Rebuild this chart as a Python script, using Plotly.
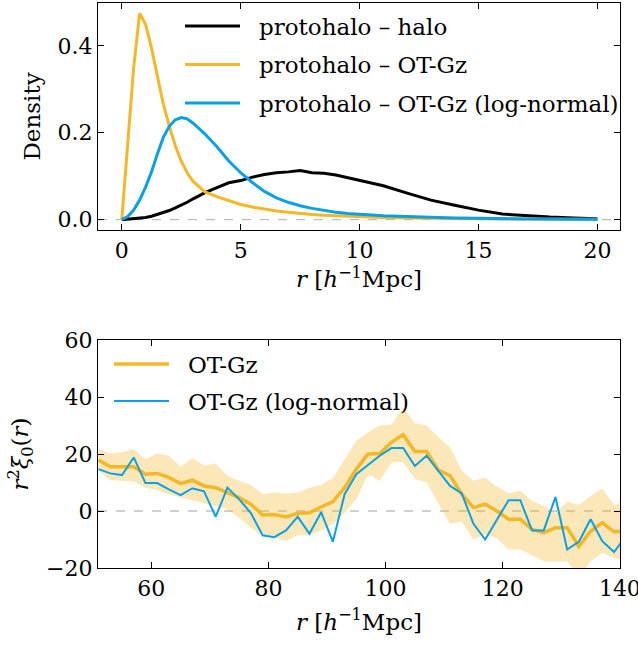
import plotly.graph_objects as go

# ---------------- data: top panel ----------------
r_top = [0, 0.25, 0.5, 0.75, 1.0, 1.25, 1.5, 1.75, 2.0, 2.25, 2.5, 2.75, 3.0, 3.5, 4.0, 4.5,
         5.0, 5.5, 6.0, 6.5, 7.0, 7.5, 8.0, 8.5, 9.0, 9.5, 10, 11, 12, 13, 14, 15, 16, 17, 18, 19, 20]
dens_halo = [0, 0.001, 0.002, 0.003, 0.005, 0.008, 0.012, 0.016, 0.021, 0.027, 0.033, 0.040, 0.048,
             0.062, 0.074, 0.085, 0.090, 0.098, 0.104, 0.108, 0.110, 0.113, 0.108, 0.107, 0.103,
             0.097, 0.090, 0.078, 0.061, 0.045, 0.033, 0.022, 0.013, 0.009, 0.006, 0.004, 0.002]
dens_otgz = [0, 0.17, 0.35, 0.475, 0.45, 0.395, 0.33, 0.265, 0.215, 0.17, 0.135, 0.108, 0.088,
             0.064, 0.053, 0.044, 0.035, 0.029, 0.024, 0.020, 0.017, 0.014, 0.012, 0.010, 0.009,
             0.008, 0.006, 0.005, 0.004, 0.003, 0.0025, 0.002, 0.0015, 0.0012, 0.001, 0.001, 0.001]
dens_logn = [0, 0.007, 0.022, 0.045, 0.075, 0.110, 0.152, 0.190, 0.215, 0.230, 0.235, 0.232, 0.222,
             0.197, 0.168, 0.135, 0.108, 0.085, 0.065, 0.050, 0.040, 0.032, 0.026, 0.021, 0.017,
             0.014, 0.012, 0.009, 0.007, 0.005, 0.004, 0.003, 0.002, 0.002, 0.0015, 0.001, 0.001]
top_names = ["protohalo – halo", "protohalo – OT-Gz", "protohalo – OT-Gz (log-normal)"]

# ---------------- data: bottom panel ----------------
r_bot = [51, 53, 55, 57, 59, 61, 63, 65, 67, 69, 71, 73, 75, 77, 79, 81, 83, 85, 87, 89, 91, 93,
         95, 97, 99, 101, 103, 105, 107, 109, 111, 113, 115, 117, 119, 121, 123, 125, 127, 129,
         131, 133, 135, 137, 139, 141]
xi_otgz = [17.9, 15.5, 15.5, 15.5, 12.9, 13.2, 11.8, 9.6, 10.8, 8.8, 8.2, 6.5, 4.7, 2.4, -1.4,
           -1.2, -2.1, -0.8, -0.6, 1.4, 3.3, 8.2, 14.7, 20.0, 20.2, 24.1, 26.8, 20.9, 20.9, 14.4,
           12.4, 5.9, 1.2, 2.4, 0.0, -2.9, -2.9, -6.5, -7.6, -5.9, -5.9, -12.4, -7.1, -4.1, -7.3, -7.0]
xi_upper = [21.8, 20.2, 20.6, 21.8, 18.2, 20.2, 19.4, 15.5, 18.6, 15.9, 16.7, 12.4, 10.6, 9.2, 6.1,
            6.5, 6.1, 6.5, 8.2, 9.2, 11.5, 18.2, 24.7, 27.6, 30.0, 30.4, 36.2, 30.8, 30.0, 25.9,
            22.4, 14.1, 10.6, 11.8, 8.5, 6.2, 7.1, 3.5, 1.8, -0.6, 3.3, 2.1, 5.3, 8.0, 2.1, 3.5]
xi_lower = [14.1, 10.8, 10.6, 10.4, 8.2, 7.3, 5.9, 4.7, 3.8, 2.9, 1.8, 0.6, -2.4, -5.9, -8.8,
            -9.4, -10.6, -8.5, -8.5, -6.8, -4.7, -0.6, 4.1, 12.9, 10.6, 17.1, 17.1, 11.2, 10.0, 2.6,
            -4.5, -3.8, -10.0, -8.2, -9.6, -13.5, -13.5, -15.5, -17.6, -17.6, -17.6, -23.5, -17.6,
            -14.7, -16.5, -17.6]
xi_logn = [14.7, 13.2, 12.6, 18.8, 9.8, 9.8, 7.6, 5.6, 8.0, 6.9, -2.0, 8.2, 4.1, -0.7, -8.5,
           -9.2, -6.8, -2.0, -8.0, -0.4, -10.8, 5.9, 12.9, 16.1, 19.4, 22.1, 22.1, 15.8, 19.4, 14.1,
           8.8, 6.2, -4.5, -10.0, -3.3, 3.8, 3.8, -6.8, -6.8, 4.9, -13.5, -10.8, -2.9, -10.6, -14.4, -9.0]
bot_names = ["OT-Gz", "OT-Gz (log-normal)"]

top_xticks = [0, 5, 10, 15, 20]
top_yticks = [0.0, 0.2, 0.4]
bot_xticks = [60, 80, 100, 120, 140]
bot_yticks = [-20, 0, 20, 40, 60]
bot_yticklabels = ["−20", "0", "20", "40", "60"]

BLACK = "#000000"
ORANGE = "#F4B728"
BLUE = "#0BA0E3"
BAND = "rgba(244,183,40,0.33)"
FONT = "DejaVu Serif"

W, H = 638, 645
ML, MR, MT, MB = 98, 18, 3, 77
PW, PH = W - ML - MR, H - MT - MB


def px(xp):
    return (xp - ML) / PW


def py(yp):
    return (H - MB - yp) / PH


fig = go.Figure()

top_colors = [BLACK, ORANGE, BLUE]
for name, vals, col in zip(top_names, [dens_halo, dens_otgz, dens_logn], top_colors):
    fig.add_trace(go.Scatter(x=r_top, y=vals, mode="lines", line=dict(color=col, width=3),
                             name=name, xaxis="x", yaxis="y", showlegend=False))

fig.add_trace(go.Scatter(x=r_bot, y=xi_lower, mode="lines", line=dict(width=0, color=BAND),
                         showlegend=False, hoverinfo="skip", xaxis="x2", yaxis="y2"))
fig.add_trace(go.Scatter(x=r_bot, y=xi_upper, mode="lines", line=dict(width=0, color=BAND),
                         fill="tonexty", fillcolor=BAND, showlegend=False, hoverinfo="skip",
                         xaxis="x2", yaxis="y2"))
fig.add_trace(go.Scatter(x=r_bot, y=xi_otgz, mode="lines", line=dict(color=ORANGE, width=3.5),
                         name=bot_names[0], xaxis="x2", yaxis="y2", showlegend=False))
fig.add_trace(go.Scatter(x=r_bot, y=xi_logn, mode="lines", line=dict(color=BLUE, width=2),
                         name=bot_names[1], xaxis="x2", yaxis="y2", showlegend=False))

axis_common = dict(showline=True, linecolor="black", linewidth=1.3, mirror="allticks",
                   ticks="inside", ticklen=6, tickwidth=1.2, tickcolor="black",
                   showgrid=False, zeroline=False, ticklabeloverflow="allow", automargin=False,
                   tickfont=dict(family=FONT, size=22, color="black"))

title_font = dict(family=FONT, size=23, color="black")
xtitle = "<i>r</i> [<i>h</i><sup>−1</sup>Mpc]"

fig.update_layout(
    width=W, height=H,
    margin=dict(l=ML, r=MR, t=MT, b=MB, autoexpand=False),
    paper_bgcolor="white", plot_bgcolor="white",
    font=dict(family=FONT, color="black"),
    showlegend=False,
    xaxis=dict(domain=[0, 1], anchor="y", range=[-1.0, 20.95], tickvals=top_xticks,
               title=dict(text=xtitle, font=title_font, standoff=6), **axis_common),
    yaxis=dict(domain=[py(230), 1], anchor="x", range=[-0.0238, 0.4988], tickvals=top_yticks,
               tickformat=".1f", title=dict(text="Density", font=title_font, standoff=10),
               **axis_common),
    xaxis2=dict(domain=[0, 1], anchor="y2", range=[50.9, 140.02], tickvals=bot_xticks,
                title=dict(text=xtitle, font=title_font, standoff=14), **axis_common),
    yaxis2=dict(domain=[0, py(340)], anchor="x2", range=[-20, 60.02], tickvals=bot_yticks,
                ticktext=bot_yticklabels,
                title=dict(text="<i>r</i><sup>2</sup><i>ξ</i><sub>0</sub>(<i>r</i>)", font=title_font,
                           standoff=10),
                **axis_common),
)

# dashed zero lines
fig.add_shape(type="line", xref="x domain", yref="y", x0=0, x1=1, y0=0, y1=0,
              line=dict(color="#999999", width=0.8, dash="dash"), layer="below")
fig.add_shape(type="line", xref="x2 domain", yref="y2", x0=0, x1=1, y0=0, y1=0,
              line=dict(color="#888888", width=0.8, dash="dash"), layer="below")

# manual legends (matplotlib style)
leg_font = dict(family=FONT, size=23, color="black")
top_leg_y = [26, 64.5, 103]
for name, col, yy in zip(top_names, top_colors, top_leg_y):
    fig.add_shape(type="line", xref="paper", yref="paper", x0=px(185), x1=px(240),
                  y0=py(yy), y1=py(yy), line=dict(color=col, width=3))
    fig.add_annotation(xref="paper", yref="paper", x=px(257), y=py(yy + 1), text=name,
                       showarrow=False, xanchor="left", yanchor="middle", font=leg_font)

bot_leg_y = [364, 401]
for name, col, lw, yy in zip(bot_names, [ORANGE, BLUE], [3.5, 2], bot_leg_y):
    fig.add_shape(type="line", xref="paper", yref="paper", x0=px(114), x1=px(169),
                  y0=py(yy), y1=py(yy), line=dict(color=col, width=lw))
    fig.add_annotation(xref="paper", yref="paper", x=px(186), y=py(yy + 1), text=name,
                       showarrow=False, xanchor="left", yanchor="middle", font=leg_font)

fig.write_html("out.html")
